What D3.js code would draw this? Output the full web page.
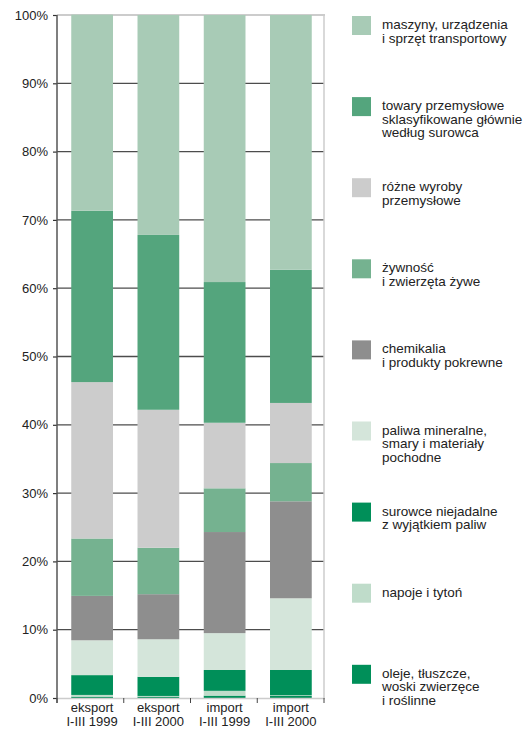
<!DOCTYPE html>
<html>
<head>
<meta charset="utf-8">
<script src="https://cdn.jsdelivr.net/npm/d3@7"></script>
<style>
  html, body { margin: 0; padding: 0; background: #fff; }
  svg { display: block; font-family: "Liberation Sans", Arial, sans-serif; }
</style>
</head>
<body>
<svg id="chart" width="525" height="729"></svg>
<script>
// Categories on the x axis (two-line labels)
const categories = ["eksport|I-III 1999", "eksport|I-III 2000", "import|I-III 1999", "import|I-III 2000"];

// Shares of trade (%) per commodity group, one value per category
const oleje      = [0.2, 0.2, 0.35, 0.3];
const napoje     = [0.25, 0.1, 0.7, 0.1];
const surowce    = [2.9, 2.8, 3.05, 3.7];
const paliwa     = [5.1, 5.5, 5.4, 10.5];
const chemikalia = [6.5, 6.6, 14.8, 14.2];
const zywnosc    = [8.4, 6.8, 6.4, 5.6];
const rozne      = [22.9, 20.2, 9.6, 8.8];
const towary     = [25.1, 25.6, 20.6, 19.5];
const maszyny    = [28.7, 32.2, 39.1, 37.3];

const yTicks = [0, 10, 20, 30, 40, 50, 60, 70, 80, 90, 100];

// Series from bottom of the stack to the top
const series = [
  { key: "oleje",      values: oleje,      color: "#008f59", label: ["oleje, tłuszcze,", "woski zwierzęce", "i roślinne"] },
  { key: "napoje",     values: napoje,     color: "#bfdcca", label: ["napoje i tytoń"] },
  { key: "surowce",    values: surowce,    color: "#008f59", label: ["surowce niejadalne", "z wyjątkiem paliw"] },
  { key: "paliwa",     values: paliwa,     color: "#d4e5da", label: ["paliwa mineralne,", "smary i materiały", "pochodne"] },
  { key: "chemikalia", values: chemikalia, color: "#8e8e8e", label: ["chemikalia", "i produkty pokrewne"] },
  { key: "zywnosc",    values: zywnosc,    color: "#75b290", label: ["żywność", "i zwierzęta żywe"] },
  { key: "rozne",      values: rozne,      color: "#cccccc", label: ["różne wyroby", "przemysłowe"] },
  { key: "towary",     values: towary,     color: "#54a57d", label: ["towary przemysłowe", "sklasyfikowane głównie", "według surowca"] },
  { key: "maszyny",    values: maszyny,    color: "#a8cbb6", label: ["maszyny, urządzenia", "i sprzęt transportowy"] }
];

const rows = categories.map((c, i) => {
  const r = { cat: c };
  series.forEach(s => { r[s.key] = s.values[i]; });
  return r;
});

const stack = d3.stack().keys(series.map(s => s.key));
const stacked = stack(rows);

const svg = d3.select("#chart");

const plot = { left: 57, right: 324, top: 15, bottom: 698 };

const x = d3.scaleBand()
  .domain(categories)
  .range([plot.left + 1, plot.right + 1])
  .paddingInner(0.37)
  .paddingOuter(0.2);

const y = d3.scaleLinear().domain([0, 100]).range([plot.bottom, plot.top]);

// Horizontal gridlines
svg.append("g")
  .selectAll("line")
  .data(yTicks.filter(t => t > 0 && t < 100))
  .join("line")
  .attr("x1", plot.left).attr("x2", plot.right)
  .attr("y1", d => y(d)).attr("y2", d => y(d))
  .attr("stroke", "#4d4d4d").attr("stroke-width", 1.3);

// Frame: light top and right edges
svg.append("line")
  .attr("x1", plot.left).attr("x2", plot.right + 1)
  .attr("y1", y(100)).attr("y2", y(100))
  .attr("stroke", "#cccccc").attr("stroke-width", 2);
svg.append("line")
  .attr("x1", plot.right).attr("x2", plot.right)
  .attr("y1", y(100)).attr("y2", plot.bottom)
  .attr("stroke", "#cccccc").attr("stroke-width", 1.5);

// Stacked bars
svg.append("g")
  .selectAll("g")
  .data(stacked)
  .join("g")
  .attr("fill", (d, i) => series[i].color)
  .selectAll("rect")
  .data(d => d)
  .join("rect")
  .attr("x", d => x(d.data.cat))
  .attr("width", x.bandwidth())
  .attr("y", d => y(d[1]))
  .attr("height", d => y(d[0]) - y(d[1]));

// Bottom axis line
svg.append("line")
  .attr("x1", plot.left).attr("x2", plot.right + 1)
  .attr("y1", plot.bottom + 0.5).attr("y2", plot.bottom + 0.5)
  .attr("stroke", "#cccccc").attr("stroke-width", 1.5);

// Category boundary ticks
const boundaries = categories.map((c, i) => plot.left + i * (plot.right - plot.left) / categories.length).concat([plot.right]);
svg.append("g")
  .selectAll("line")
  .data(boundaries)
  .join("line")
  .attr("x1", d => d).attr("x2", d => d)
  .attr("y1", plot.bottom).attr("y2", plot.bottom + 5)
  .attr("stroke", "#444").attr("stroke-width", 1);

// Y axis
const yAxis = d3.axisLeft(y)
  .tickValues(yTicks)
  .tickSize(4)
  .tickPadding(5)
  .tickFormat(d => d + "%");
const yg = svg.append("g").attr("transform", `translate(${plot.left},0)`).call(yAxis);
yg.select(".domain").remove();
yg.selectAll(".tick line").attr("stroke", "#333").attr("stroke-width", 1.2);
yg.selectAll(".tick text")
  .attr("fill", "#222")
  .style("font-size", "13px")
  .style("font-family", "'Liberation Sans', Arial, sans-serif");
svg.append("line")
  .attr("x1", plot.left).attr("x2", plot.left)
  .attr("y1", plot.top).attr("y2", plot.bottom + 5)
  .attr("stroke", "#555").attr("stroke-width", 1.5);

// X axis labels (two lines)
const xAxis = d3.axisBottom(x).tickSize(0).tickPadding(0).tickFormat("");
const xg = svg.append("g").attr("transform", `translate(0,${plot.bottom})`).call(xAxis);
xg.select(".domain").remove();
xg.selectAll(".tick").each(function (d) {
  const parts = d.split("|");
  const t = d3.select(this).append("text")
    .attr("fill", "#222")
    .attr("text-anchor", "middle")
    .style("font-size", "13px");
  parts.forEach((p, i) => {
    t.append("tspan").attr("x", 0).attr("y", 14 + i * 14).text(p);
  });
});

// Legend, top to bottom in reverse stacking order
const legendItems = series.slice().reverse();
const lg = svg.append("g")
  .selectAll("g")
  .data(legendItems)
  .join("g")
  .attr("transform", (d, i) => `translate(352,${16 + i * 81.1})`);
lg.append("rect")
  .attr("width", 19).attr("height", 19)
  .attr("fill", d => d.color);
lg.append("text")
  .attr("fill", "#222")
  .style("font-size", "13.5px")
  .each(function (d) {
    const t = d3.select(this);
    d.label.forEach((line, i) => {
      t.append("tspan").attr("x", 30).attr("y", 13 + i * 13.5).text(line);
    });
  });
</script>
</body>
</html>
